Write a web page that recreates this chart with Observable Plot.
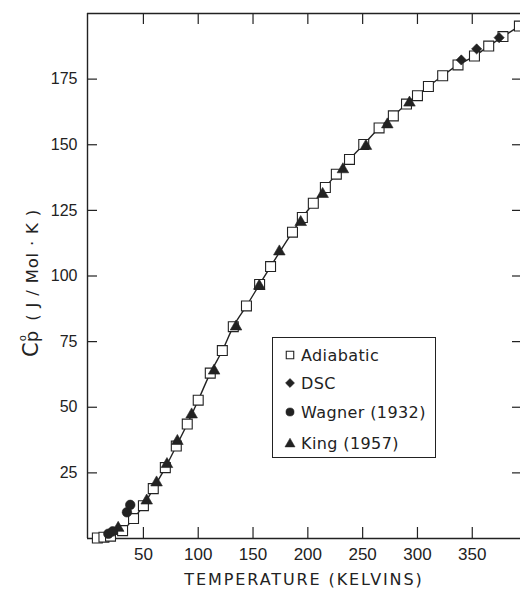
<!DOCTYPE html>
<html>
<head>
<meta charset="utf-8">
<script src="https://cdn.jsdelivr.net/npm/d3@7"></script>
<script src="https://cdn.jsdelivr.net/npm/@observablehq/plot@0.6"></script>
<style>
  html, body { margin: 0; padding: 0; background: white; }
  #wrap { position: relative; width: 520px; height: 593px; overflow: hidden; }
  #legend { position: absolute; left: 272px; top: 337px; width: 162px; height: 119px;
            border: 1.4px solid #222; background: white; box-sizing: content-box; }
  #legend .row { position: absolute; left: 0; height: 20px; display: flex; align-items: center; }
  #legend .row span { font-family: "DejaVu Sans", sans-serif; font-size: 16px; letter-spacing: 0.4px; color: #222; margin-left: 4px; }
</style>
</head>
<body>
<div id="wrap"></div>
<script>
// ---- data ----
const adiabaticT  = [8, 14, 20, 31, 41, 50, 59, 70, 80, 90, 100, 111, 122, 132, 144, 156, 166, 186, 195, 205, 216, 226, 238, 251, 265, 278, 290, 300, 310, 323, 337, 352, 365, 378, 393];
const adiabaticCp = [0.2, 0.5, 0.9, 3.0, 7.6, 12.5, 19.0, 27.0, 35.2, 43.6, 52.7, 63.0, 71.6, 80.7, 88.6, 96.8, 103.6, 116.7, 122.3, 127.7, 133.7, 138.8, 144.4, 150.1, 156.4, 161.0, 165.5, 168.7, 172.2, 176.3, 180.4, 183.8, 187.6, 191.2, 195.2];

const dscT  = [340, 354, 374.5];
const dscCp = [182.3, 186.5, 190.8];

const wagnerT  = [18, 22, 35, 38];
const wagnerCp = [1.8, 2.7, 10.0, 12.8];

const kingT  = [27, 53, 62, 71.5, 81, 94, 114.5, 134.5, 155.7, 174, 193.5, 213.5, 232, 253, 272.5, 292.7];
const kingCp = [4.0, 14.4, 21.3, 28.3, 37.1, 47.2, 63.9, 80.7, 96.2, 109.3, 120.5, 131.2, 140.6, 149.5, 157.7, 166.0];

const xTicks = [50, 100, 150, 200, 250, 300, 350];
const yTicks = [25, 50, 75, 100, 125, 150, 175];
const xTitle = "TEMPERATURE (KELVINS)";
const yTitleSymbol = "C";
const yTitleSup = "o";
const yTitleSub = "p";
const yTitleUnits = " ( J / Mol \u00B7 K )";
const legendNames = ["Adiabatic", "DSC", "Wagner (1932)", "King (1957)"];
const legendSymbols = ["square", "diamond2", "circle", "triangle"];

// ---- build tables ----
const zip = (T, C) => T.map((t, i) => ({T: t, Cp: C[i]}));
const adiabatic = zip(adiabaticT, adiabaticCp);
const dsc = zip(dscT, dscCp);
const wagner = zip(wagnerT, wagnerCp);
const king = zip(kingT, kingCp);

const ink = "#222";
const frameW = 520 - 87, frameH = 593 - 13 - 55;

const chart = Plot.plot({
  width: 520,
  height: 593,
  marginLeft: 87,
  marginRight: 0,
  marginTop: 13,
  marginBottom: 55,
  style: {background: "white", fontFamily: "Liberation Sans, Arial, sans-serif", color: ink},
  x: {domain: [-1, 394]},
  y: {domain: [0, 200]},
  marks: [
    Plot.axisX(xTicks, {tickSize: 0, tickPadding: 9, fontSize: 17, label: null, fill: ink}),
    Plot.axisY(yTicks, {tickSize: 0, tickPadding: 10, fontSize: 16, label: null, fill: ink}),
    // frame: left, bottom, top
    Plot.ruleX([-1], {stroke: ink, strokeWidth: 1.4}),
    Plot.ruleY([0], {stroke: ink, strokeWidth: 1.4}),
    Plot.ruleY([200], {stroke: ink, strokeWidth: 1.4}),
    // inward ticks
    Plot.tickY(yTicks, {y: d => d, insetRight: frameW - 10, stroke: ink, strokeWidth: 1.2}),
    Plot.tickY(yTicks, {y: d => d, insetLeft: frameW - 8, stroke: ink, strokeWidth: 1.2}),
    Plot.tickX(xTicks, {x: d => d, insetTop: frameH - 11, stroke: ink, strokeWidth: 1.2}),
    Plot.tickX(xTicks, {x: d => d, insetBottom: frameH - 11, stroke: ink, strokeWidth: 1.2}),
    // curve
    Plot.line(adiabatic, {x: "T", y: "Cp", curve: "monotone-x", stroke: ink, strokeWidth: 1.4}),
    // data points
    Plot.dot(adiabatic, {x: "T", y: "Cp", symbol: "square", r: 5.6, fill: "white", stroke: ink, strokeWidth: 1.1}),
    Plot.dot(king, {x: "T", y: "Cp", symbol: "triangle", r: 4.3, fill: ink, stroke: ink, strokeWidth: 0.6}),
    Plot.dot(dsc, {x: "T", y: "Cp", symbol: "diamond2", r: 4.6, fill: ink, stroke: ink, strokeWidth: 0.6}),
    Plot.dot(wagner, {x: "T", y: "Cp", symbol: "circle", r: 4.8, fill: ink, stroke: ink, strokeWidth: 0.6}),
    // x axis title
    Plot.text([xTitle], {frameAnchor: "bottom", dy: 46, fontSize: 16, fontFamily: "DejaVu Sans", fill: ink})
  ]
});

d3.select(chart).selectAll("text").filter(function() { return this.textContent === xTitle; })
  .attr("letter-spacing", "1.9px");

// y axis title: C with superscript ring and subscript p, then units
const yt = d3.select(chart).append("text")
  .attr("transform", "translate(38,283) rotate(-90)")
  .attr("text-anchor", "middle")
  .attr("font-family", "DejaVu Sans, sans-serif")
  .attr("fill", ink);
yt.append("tspan").attr("font-size", 21).text(yTitleSymbol);
yt.append("tspan").attr("font-size", 10).attr("dx", 1).attr("dy", -12.5).text(yTitleSup);
yt.append("tspan").attr("font-size", 18).attr("dx", -7).attr("dy", 12.5).text(yTitleSub);
yt.append("tspan").attr("font-size", 16.5).attr("dx", 4).attr("letter-spacing", 0.8).text(yTitleUnits);

const wrap = document.getElementById("wrap");
wrap.appendChild(chart);

// ---- legend ----
const legend = document.createElement("div");
legend.id = "legend";
const rowTops = [7, 35, 64, 95];
const symbolTypes = {square: d3.symbolSquare, diamond2: d3.symbolDiamond2, circle: d3.symbolCircle, triangle: d3.symbolTriangle};
legendNames.forEach((name, i) => {
  const row = document.createElement("div");
  row.className = "row";
  row.style.top = rowTops[i] + "px";
  row.style.left = "10px";
  const svg = d3.create("svg").attr("width", 14).attr("height", 20);
  const sym = legendSymbols[i];
  const size = sym === "square" ? 56 : sym === "triangle" ? 44 : 52;
  svg.append("path")
    .attr("transform", `translate(7,${sym === "triangle" ? 11 : 10})`)
    .attr("d", d3.symbol(symbolTypes[sym], size)())
    .attr("fill", sym === "square" ? "white" : ink)
    .attr("stroke", ink)
    .attr("stroke-width", sym === "square" ? 1.1 : 0.5);
  row.appendChild(svg.node());
  const label = document.createElement("span");
  label.textContent = name;
  row.appendChild(label);
  legend.appendChild(row);
});
wrap.appendChild(legend);
</script>
</body>
</html>
